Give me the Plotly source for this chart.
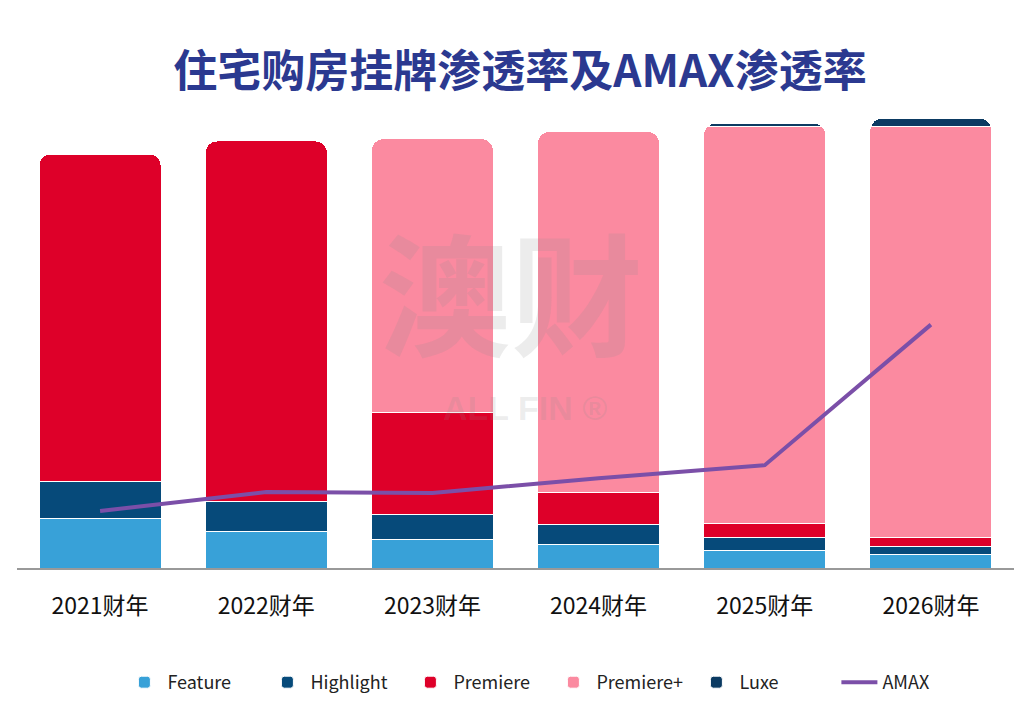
import plotly.graph_objects as go

years = ["2021财年", "2022财年", "2023财年", "2024财年", "2025财年", "2026财年"]

# 渗透率 (%)
feature = [11.1, 8.2, 6.4, 5.3, 3.8, 2.9]
highlight = [8.2, 6.7, 5.6, 4.4, 3.1, 2.0]
premiere = [72.9, 80.2, 22.7, 7.1, 3.1, 1.8]
premiere_plus = [None, None, 60.9, 80.4, 88.4, 91.6]
luxe = [None, None, None, None, 0.7, 1.8]
amax = [12.7, 16.9, 16.7, 20.0, 22.9, 54.2]

font_cn = "Noto Sans CJK SC"

fig = go.Figure()

bar_specs = [
    ("Feature", feature, "#38a1d8"),
    ("Highlight", highlight, "#064a7a"),
    ("Premiere", premiere, "#de0029"),
    ("Premiere+", premiere_plus, "#fb8aa0"),
    ("Luxe", luxe, "#0b3a62"),
]
for name, vals, color in bar_specs:
    # 空值不画柱，保证顶端圆角落在真正最上面的一段
    xs = [yr for yr, v in zip(years, vals) if v is not None]
    ys = [v for v in vals if v is not None]
    fig.add_trace(go.Bar(
        x=xs, y=ys, name=name,
        marker=dict(color=color, line=dict(color="white", width=1)),
    ))

fig.add_trace(go.Scatter(
    x=years, y=amax, name="AMAX", mode="lines",
    line=dict(color="#7b4fa8", width=4),
))

# 水印
fig.add_annotation(text="<b>澳财</b>", x=0.495, y=0.61, xref="paper", yref="paper",
                   yanchor="middle", showarrow=False,
                   font=dict(size=132, color="rgba(140,140,140,0.17)", family=font_cn))
fig.add_annotation(text="<b>ALL FIN ®</b>", x=0.51, y=0.35, xref="paper", yref="paper",
                   yanchor="middle", showarrow=False,
                   font=dict(size=34, color="rgba(140,140,140,0.17)", family="Liberation Sans"))

fig.update_layout(
    width=1024, height=727,
    barmode="stack", bargap=0.265, barcornerradius=12,
    paper_bgcolor="white", plot_bgcolor="white",
    margin=dict(l=9, r=18, t=102, b=167),
    title=dict(text="<b>住宅购房挂牌渗透率及AMAX渗透率</b>", x=0.5, xanchor="center",
               y=0.912, yanchor="middle", yref="container",
               font=dict(size=44, color="#2b3990", family=font_cn)),
    xaxis=dict(showline=True, linecolor="#999999", linewidth=2, ticks="",
               categoryorder="array", categoryarray=years, ticklabelstandoff=16,
               tickfont=dict(size=23, color="#111111", family=font_cn)),
    yaxis=dict(range=[0, 102], visible=False),
    legend=dict(orientation="h", x=0.535, xanchor="center", y=-0.25, yanchor="middle",
                font=dict(size=18, color="#222222", family=font_cn),
                itemwidth=36, entrywidth=92, traceorder="normal"),
    showlegend=True,
)

fig.write_html("out.html")
